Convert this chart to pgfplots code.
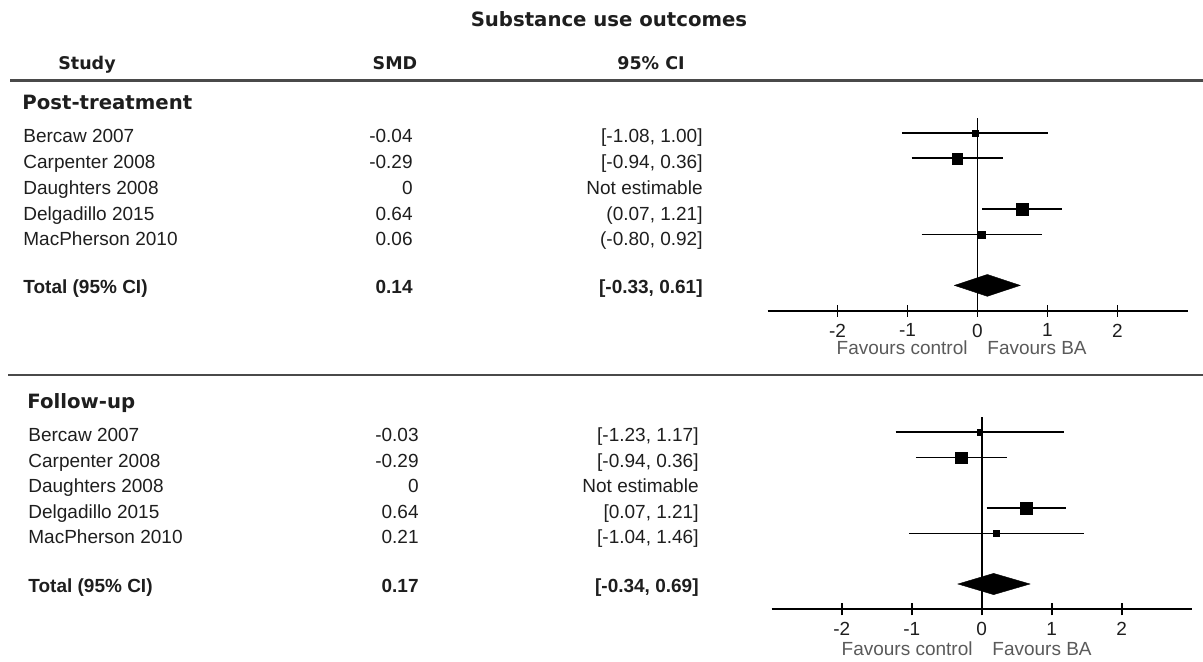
\documentclass[border=0pt]{standalone}
\usepackage{pgfplots}
\pgfplotsset{compat=1.18}
\usepackage{pgfplotstable}
\usepackage{fontspec}
\setmainfont{Liberation Sans}
\newfontfamily\dvs{DejaVu Sans}
\definecolor{txt}{HTML}{1E1E1E}
\definecolor{fav}{HTML}{5A5A5A}
\definecolor{sep}{HTML}{4A4A4A}

% Post-treatment: y = row position (bottom-up), smd, marker half-size (pt)
\pgfplotstableread{
y smd w
7 -0.04 1.5
6 -0.29 2.7
4 0.64 2.9
3 0.06 1.75
}\posttab

% Follow-up
\pgfplotstableread{
y smd w
7 -0.03 1.3
6 -0.29 2.9
4 0.64 3.05
3 0.21 1.4
}\followtab

\newcommand{\bodyfont}{\fontsize{9.5}{11}\selectfont}
\newcommand{\headfont}{\dvs\bfseries\fontsize{8.75}{10}\selectfont}
\newcommand{\secfont}{\dvs\bfseries\fontsize{9.85}{11}\selectfont}

\pgfplotsset{forest/.style={
  x=35pt, xmin=-3, xmax=3, ymin=0, ymax=7.6,
  axis x line=bottom, axis y line=none,
  axis line style={-, line width=1pt, black},
  xtick={-2,-1,0,1,2}, xticklabels={-2,-1,0,1,2},
  tick align=center, major tick length=6pt,
  tick style={line width=0.9pt, black},
  xticklabel style={font=\bodyfont, text=txt},
  anchor=south west, clip=false, unbounded coords=jump,
}}

\newcommand{\squares}[1]{%
  \addplot[only marks, mark=square*, black,
    mark options={solid, line width=0.2pt},
    scatter, scatter/use mapped color={draw=black, fill=black},
    visualization depends on={\thisrow{w}\as\wsize},
    scatter/@pre marker code/.append style={/tikz/mark size=\wsize}]
    table[x=smd, y=y] {#1};
}

\begin{document}
\begin{tikzpicture}
\path[use as bounding box] (0,0) rectangle (601.5pt,-331pt);

% ---------- top forest plot ----------
\begin{axis}[forest, y=12.7pt, at={(383.75pt,-155.4pt)}]
  \addplot[black, line width=0.85pt] coordinates {(0,0) (0,7.6)};
  % 95% confidence intervals
  \addplot[black, line width=0.9pt, mark=none] coordinates {
    (-1.08,7) (1.00,7) (nan,nan)
    (-0.94,6) (0.36,6) (nan,nan)
    (0.07,4) (1.21,4) (nan,nan)
    (-0.80,3) (0.92,3)};
  \squares{\posttab}
  \addplot[fill=black, draw=black, line width=0.2pt]
    coordinates {(-0.33,1) (0.14,1.43) (0.61,1) (0.14,0.57)} -- cycle;
\end{axis}

% ---------- bottom forest plot ----------
\begin{axis}[forest, y=12.65pt, at={(385.85pt,-304.65pt)}]
  \addplot[black, line width=0.85pt] coordinates {(0,0) (0,7.6)};
  \addplot[black, line width=0.9pt, mark=none] coordinates {
    (-1.23,7) (1.17,7) (nan,nan)
    (-0.94,6) (0.36,6) (nan,nan)
    (0.07,4) (1.21,4) (nan,nan)
    (-1.04,3) (1.46,3)};
  \squares{\followtab}
  \addplot[fill=black, draw=black, line width=0.2pt]
    coordinates {(-0.34,1) (0.17,1.42) (0.69,1) (0.17,0.58)} -- cycle;
\end{axis}

\begin{scope}[x=0.5pt, y=-0.5pt, every node/.style={inner sep=0pt, text=txt}]
  % title and headers
  \node[anchor=base, font=\secfont] at (609,27) {Substance use outcomes};
  \node[anchor=base, font=\headfont] at (87,69.5) {Study};
  \node[anchor=base, font=\headfont] at (395,69.5) {SMD};
  \node[anchor=base, font=\headfont] at (651,69.5) {95\% CI};
  \draw[sep, line width=1.4pt] (10,80.5) -- (1203,80.5);

  % Post-treatment section
  \node[anchor=base west, font=\secfont] at (22,109.5) {Post-treatment};
  \begin{scope}[every node/.append style={font=\bodyfont}]
    \node[anchor=base west] at (23,143) {Bercaw 2007};
    \node[anchor=base west] at (23,168.7) {Carpenter 2008};
    \node[anchor=base west] at (23,194.4) {Daughters 2008};
    \node[anchor=base west] at (23,220.1) {Delgadillo 2015};
    \node[anchor=base west] at (23,245.8) {MacPherson 2010};
    \node[anchor=base east] at (413,143) {-0.04};
    \node[anchor=base east] at (413,168.7) {-0.29};
    \node[anchor=base east] at (413,194.4) {0};
    \node[anchor=base east] at (413,220.1) {0.64};
    \node[anchor=base east] at (413,245.8) {0.06};
    \node[anchor=base east] at (703,143) {[-1.08, 1.00]};
    \node[anchor=base east] at (703,168.7) {[-0.94, 0.36]};
    \node[anchor=base east] at (703,194.4) {Not estimable};
    \node[anchor=base east] at (703,220.1) {(0.07, 1.21]};
    \node[anchor=base east] at (703,245.8) {(-0.80, 0.92]};
    \node[anchor=base west, font=\bodyfont\bfseries] at (23,294) {Total (95\% CI)};
    \node[anchor=base east, font=\bodyfont\bfseries] at (413,294) {0.14};
    \node[anchor=base east, font=\bodyfont\bfseries] at (703,294) {[-0.33, 0.61]};
    \node[anchor=base east, text=fav] at (968,355) {Favours control};
    \node[anchor=base west, text=fav] at (987,355) {Favours BA};
  \end{scope}

  \draw[sep, line width=1.4pt] (8,375) -- (1203,375);

  % Follow-up section
  \node[anchor=base west, font=\secfont] at (27,408) {Follow-up};
  \begin{scope}[every node/.append style={font=\bodyfont}]
    \node[anchor=base west] at (28,441.5) {Bercaw 2007};
    \node[anchor=base west] at (28,467.1) {Carpenter 2008};
    \node[anchor=base west] at (28,492.7) {Daughters 2008};
    \node[anchor=base west] at (28,518.3) {Delgadillo 2015};
    \node[anchor=base west] at (28,543.9) {MacPherson 2010};
    \node[anchor=base east] at (419,441.5) {-0.03};
    \node[anchor=base east] at (419,467.1) {-0.29};
    \node[anchor=base east] at (419,492.7) {0};
    \node[anchor=base east] at (419,518.3) {0.64};
    \node[anchor=base east] at (419,543.9) {0.21};
    \node[anchor=base east] at (699,441.5) {[-1.23, 1.17]};
    \node[anchor=base east] at (699,467.1) {[-0.94, 0.36]};
    \node[anchor=base east] at (699,492.7) {Not estimable};
    \node[anchor=base east] at (699,518.3) {[0.07, 1.21]};
    \node[anchor=base east] at (699,543.9) {[-1.04, 1.46]};
    \node[anchor=base west, font=\bodyfont\bfseries] at (28,592) {Total (95\% CI)};
    \node[anchor=base east, font=\bodyfont\bfseries] at (419,592) {0.17};
    \node[anchor=base east, font=\bodyfont\bfseries] at (699,592) {[-0.34, 0.69]};
    \node[anchor=base east, text=fav] at (973,655) {Favours control};
    \node[anchor=base west, text=fav] at (992,655) {Favours BA};
  \end{scope}
\end{scope}
\end{tikzpicture}
\end{document}
